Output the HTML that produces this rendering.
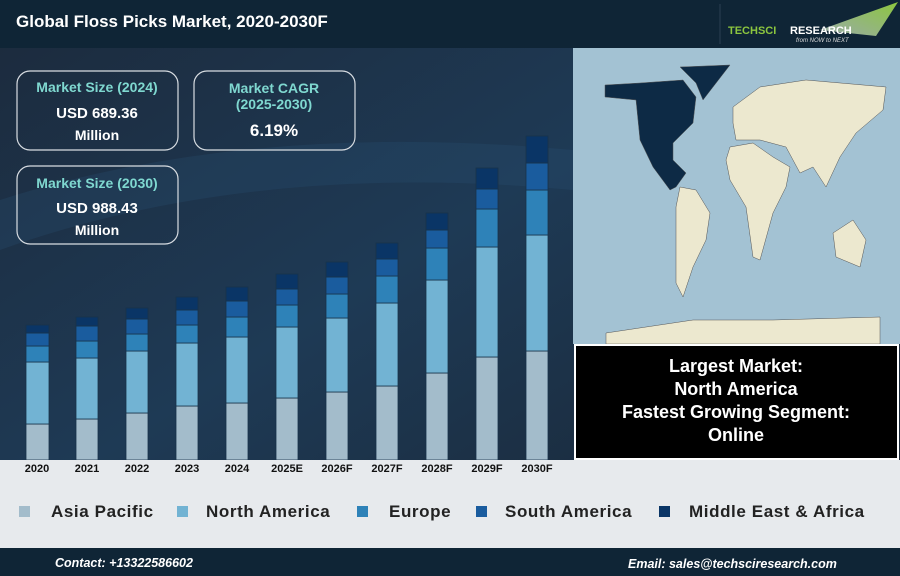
<!DOCTYPE html>
<html><head><meta charset="utf-8"><style>
body{margin:0;width:900px;height:576px;overflow:hidden;font-family:"Liberation Sans",sans-serif;}
</style></head><body>
<svg width="900" height="576" xmlns="http://www.w3.org/2000/svg" style="display:block">
<defs>
<linearGradient id="bg" x1="0" y1="0" x2="1" y2="1">
<stop offset="0" stop-color="#1c2a3c"/><stop offset="0.45" stop-color="#1e3a55"/><stop offset="1" stop-color="#18222f"/>
</linearGradient>
<linearGradient id="logo" x1="0" y1="1" x2="1" y2="0"><stop offset="0" stop-color="#9aa"/><stop offset="1" stop-color="#8cc63f"/></linearGradient>
</defs>
<rect width="900" height="576" fill="url(#bg)"/>
<path d="M0 200 Q250 120 573 150 L573 190 Q250 160 0 250Z" fill="#2a5578" opacity="0.25"/>
<rect x="0" y="0" width="900" height="48" fill="#0f2536"/>
<text x="16" y="27" fill="#fff" font-size="17" font-weight="bold">Global Floss Picks Market, 2020-2030F</text>
<line x1="720" y1="4" x2="720" y2="44" stroke="#2b3f52"/>
<polygon points="820,30 898,2 876,36" fill="url(#logo)"/>
<text x="728" y="34" fill="#8cc63f" font-size="11" font-weight="bold">TECHSCI</text>
<text x="790" y="34" fill="#fff" font-size="11" font-weight="bold">RESEARCH</text>
<text x="796" y="42" fill="#ddd" font-size="6" font-style="italic">from NOW to NEXT</text>

<g fill="none" stroke="#d8dde2" stroke-width="1.2">
<rect x="17" y="71" width="161" height="79" rx="13"/>
<rect x="194" y="71" width="161" height="79" rx="13"/>
<rect x="17" y="166" width="161" height="78" rx="13"/>
</g>
<g font-weight="bold" text-anchor="middle">
<text x="97" y="92" fill="#7fd8d0" font-size="14">Market Size (2024)</text>
<text x="97" y="118" fill="#fff" font-size="15">USD 689.36</text>
<text x="97" y="140" fill="#fff" font-size="14">Million</text>
<text x="274" y="93" fill="#7fd8d0" font-size="14">Market CAGR</text>
<text x="274" y="109" fill="#7fd8d0" font-size="14">(2025-2030)</text>
<text x="274" y="136" fill="#fff" font-size="17">6.19%</text>
<text x="97" y="188" fill="#7fd8d0" font-size="14">Market Size (2030)</text>
<text x="97" y="213" fill="#fff" font-size="15">USD 988.43</text>
<text x="97" y="235" fill="#fff" font-size="14">Million</text>
</g>

<g stroke="#18324a" stroke-width="0.8">
<rect x="26" y="424" width="23" height="36" fill="#a3bccb"/><rect x="26" y="362" width="23" height="62" fill="#72b3d3"/><rect x="26" y="346" width="23" height="16" fill="#2e82b8"/><rect x="26" y="333" width="23" height="13" fill="#1a5c9e"/><rect x="26" y="325" width="23" height="8" fill="#0a3566"/>
<rect x="76" y="419" width="22" height="41" fill="#a3bccb"/><rect x="76" y="358" width="22" height="61" fill="#72b3d3"/><rect x="76" y="341" width="22" height="17" fill="#2e82b8"/><rect x="76" y="326" width="22" height="15" fill="#1a5c9e"/><rect x="76" y="317" width="22" height="9" fill="#0a3566"/>
<rect x="126" y="413" width="22" height="47" fill="#a3bccb"/><rect x="126" y="351" width="22" height="62" fill="#72b3d3"/><rect x="126" y="334" width="22" height="17" fill="#2e82b8"/><rect x="126" y="319" width="22" height="15" fill="#1a5c9e"/><rect x="126" y="308" width="22" height="11" fill="#0a3566"/>
<rect x="176" y="406" width="22" height="54" fill="#a3bccb"/><rect x="176" y="343" width="22" height="63" fill="#72b3d3"/><rect x="176" y="325" width="22" height="18" fill="#2e82b8"/><rect x="176" y="310" width="22" height="15" fill="#1a5c9e"/><rect x="176" y="297" width="22" height="13" fill="#0a3566"/>
<rect x="226" y="403" width="22" height="57" fill="#a3bccb"/><rect x="226" y="337" width="22" height="66" fill="#72b3d3"/><rect x="226" y="317" width="22" height="20" fill="#2e82b8"/><rect x="226" y="301" width="22" height="16" fill="#1a5c9e"/><rect x="226" y="287" width="22" height="14" fill="#0a3566"/>
<rect x="276" y="398" width="22" height="62" fill="#a3bccb"/><rect x="276" y="327" width="22" height="71" fill="#72b3d3"/><rect x="276" y="305" width="22" height="22" fill="#2e82b8"/><rect x="276" y="289" width="22" height="16" fill="#1a5c9e"/><rect x="276" y="274" width="22" height="15" fill="#0a3566"/>
<rect x="326" y="392" width="22" height="68" fill="#a3bccb"/><rect x="326" y="318" width="22" height="74" fill="#72b3d3"/><rect x="326" y="294" width="22" height="24" fill="#2e82b8"/><rect x="326" y="277" width="22" height="17" fill="#1a5c9e"/><rect x="326" y="262" width="22" height="15" fill="#0a3566"/>
<rect x="376" y="386" width="22" height="74" fill="#a3bccb"/><rect x="376" y="303" width="22" height="83" fill="#72b3d3"/><rect x="376" y="276" width="22" height="27" fill="#2e82b8"/><rect x="376" y="259" width="22" height="17" fill="#1a5c9e"/><rect x="376" y="243" width="22" height="16" fill="#0a3566"/>
<rect x="426" y="373" width="22" height="87" fill="#a3bccb"/><rect x="426" y="280" width="22" height="93" fill="#72b3d3"/><rect x="426" y="248" width="22" height="32" fill="#2e82b8"/><rect x="426" y="230" width="22" height="18" fill="#1a5c9e"/><rect x="426" y="213" width="22" height="17" fill="#0a3566"/>
<rect x="476" y="357" width="22" height="103" fill="#a3bccb"/><rect x="476" y="247" width="22" height="110" fill="#72b3d3"/><rect x="476" y="209" width="22" height="38" fill="#2e82b8"/><rect x="476" y="189" width="22" height="20" fill="#1a5c9e"/><rect x="476" y="168" width="22" height="21" fill="#0a3566"/>
<rect x="526" y="351" width="22" height="109" fill="#a3bccb"/><rect x="526" y="235" width="22" height="116" fill="#72b3d3"/><rect x="526" y="190" width="22" height="45" fill="#2e82b8"/><rect x="526" y="163" width="22" height="27" fill="#1a5c9e"/><rect x="526" y="136" width="22" height="27" fill="#0a3566"/>
</g>

<rect x="0" y="460" width="900" height="88" fill="#e7eaed"/>
<g font-size="11" font-weight="bold" fill="#111" text-anchor="middle">
<text x="37" y="472">2020</text><text x="87" y="472">2021</text><text x="137" y="472">2022</text><text x="187" y="472">2023</text><text x="237" y="472">2024</text><text x="287" y="472">2025E</text><text x="337" y="472">2026F</text><text x="387" y="472">2027F</text><text x="437" y="472">2028F</text><text x="487" y="472">2029F</text><text x="537" y="472">2030F</text>
</g>
<g font-size="17" font-weight="bold" fill="#222" letter-spacing="0.6">
<rect x="19" y="506" width="11" height="11" fill="#a3bccb"/><text x="51" y="517">Asia Pacific</text>
<rect x="177" y="506" width="11" height="11" fill="#72b3d3"/><text x="206" y="517">North America</text>
<rect x="357" y="506" width="11" height="11" fill="#2e82b8"/><text x="389" y="517">Europe</text>
<rect x="476" y="506" width="11" height="11" fill="#1a5c9e"/><text x="505" y="517">South America</text>
<rect x="659" y="506" width="11" height="11" fill="#0a3566"/><text x="689" y="517">Middle East &amp; Africa</text>
</g>
<rect x="0" y="548" width="900" height="28" fill="#0f2536"/>
<text x="55" y="567" fill="#fff" font-size="12.5" font-weight="bold" font-style="italic">Contact: +13322586602</text>
<text x="628" y="568" fill="#fff" font-size="12.5" font-weight="bold" font-style="italic">Email: sales@techsciresearch.com</text>

<rect x="573" y="48" width="327" height="296" fill="#a3c2d3"/>
<g stroke="#555" stroke-width="0.5">
<polygon fill="#ece8cf" points="680,187 696,190 710,213 706,240 693,267 683,297 676,283 676,207"/>
<polygon fill="#ece8cf" points="730,147 753,143 773,157 790,167 786,187 773,213 760,260 753,257 746,207 730,180 726,160"/>
<polygon fill="#ece8cf" points="733,107 760,87 806,80 886,87 883,110 856,133 840,157 826,187 813,167 800,173 786,147 760,140 736,140 733,123"/>
<polygon fill="#ece8cf" points="833,233 853,220 866,240 860,267 836,257"/>
<polygon fill="#ece8cf" points="606,333 693,320 773,320 880,317 880,344 606,344"/>
<polygon fill="#0d2a45" points="605,85 640,83 683,80 696,97 693,123 673,143 673,160 686,173 676,187 670,190 653,167 640,140 636,100 605,97"/>
<polygon fill="#0d2a45" points="680,67 730,65 713,87 703,100 696,83"/>
</g>
<rect x="575" y="345" width="323" height="114" fill="#000" stroke="#fff" stroke-width="2"/>
<g fill="#fff" font-size="18" font-weight="bold" text-anchor="middle">
<text x="736" y="372">Largest Market:</text>
<text x="736" y="395">North America</text>
<text x="736" y="418">Fastest Growing Segment:</text>
<text x="736" y="441">Online</text>
</g>
</svg>
</body></html>
